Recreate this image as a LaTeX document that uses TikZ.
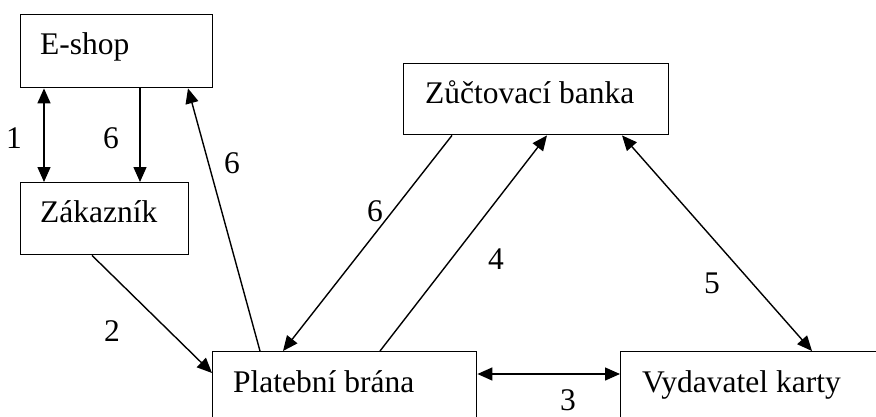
\documentclass[tikz,border=0pt]{standalone}
\usepackage{fontspec}
\setmainfont{Liberation Serif}
\usetikzlibrary{arrows.meta,calc}
\begin{document}
\begin{tikzpicture}[x=1pt,y=-1pt,
  box/.style={draw,line width=1.4pt,rectangle,inner sep=0pt,anchor=north west},
  lbl/.style={anchor=base west,inner sep=0pt,font=\fontsize{31.5}{36}\selectfont},
  num/.style={anchor=base,inner sep=0pt,font=\fontsize{31.5}{36}\selectfont},
  conn/.style={line width=1.4pt,-{Triangle[length=15pt,width=13pt]}},
  bconn/.style={line width=1.4pt,{Triangle[length=15pt,width=13pt]}-{Triangle[length=15pt,width=13pt]}}]
\useasboundingbox (0,0) rectangle (876,416);
\clip (0,0) rectangle (876,416);
\fill[white] (0,0) rectangle (876,416);
% boxes
\node[box,minimum width=192pt,minimum height=73pt] (eshop) at (20,14) {};
\node[box,minimum width=168pt,minimum height=72pt] (zak) at (20,182) {};
\node[box,minimum width=265pt,minimum height=71pt] (zuc) at (403,63) {};
\node[box,minimum width=264pt,minimum height=90pt] (brana) at (212,351) {};
\node[box,minimum width=300pt,minimum height=90pt] (vyd) at (620,351) {};
% box texts
\node[lbl] (teshop) at (40,54) {E-shop};
\node[lbl] (tzak) at (40,222) {Zákazník};
\node[lbl] (tzuc) at (425,103) {Zůčtovací banka};
\node[lbl] (tbrana) at (233,392) {Platební brána};
\node[lbl] (tvyd) at (642,392) {Vydavatel karty};
% connectors
\draw[bconn] ($(eshop.south west)+(24,0)$) -- ($(zak.north west)+(24,0)$);
\draw[conn] ($(eshop.south west)+(120,0)$) -- ($(zak.north west)+(120,0)$);
\draw[conn] ($(brana.north west)+(48,0)$) -- ($(eshop.south west)+(168,0)$);
\draw[conn] ($(zak.south west)+(72,0)$) -- ($(brana.north west)+(0,22)$);
\draw[conn] ($(zuc.south west)+(49,0)$) -- ($(brana.north west)+(71,0)$);
\draw[conn] ($(brana.north west)+(168,0)$) -- ($(zuc.south west)+(144,0)$);
\draw[bconn] ($(zuc.south west)+(219,0)$) -- ($(vyd.north west)+(192,0)$);
\draw[bconn] ($(brana.north east)+(0,23)$) -- ($(vyd.north west)+(0,23)$);
% connector labels
\node[num] (n1) at (14,148) {1};
\node[num] (n6a) at (111,148) {6};
\node[num] (n6b) at (232,173) {6};
\node[num] (n2) at (112,341) {2};
\node[num] (n6c) at (375,221) {6};
\node[num] (n4) at (496,269) {4};
\node[num] (n5) at (712,293) {5};
\node[num] (n3) at (568,410) {3};
\end{tikzpicture}
\end{document}
